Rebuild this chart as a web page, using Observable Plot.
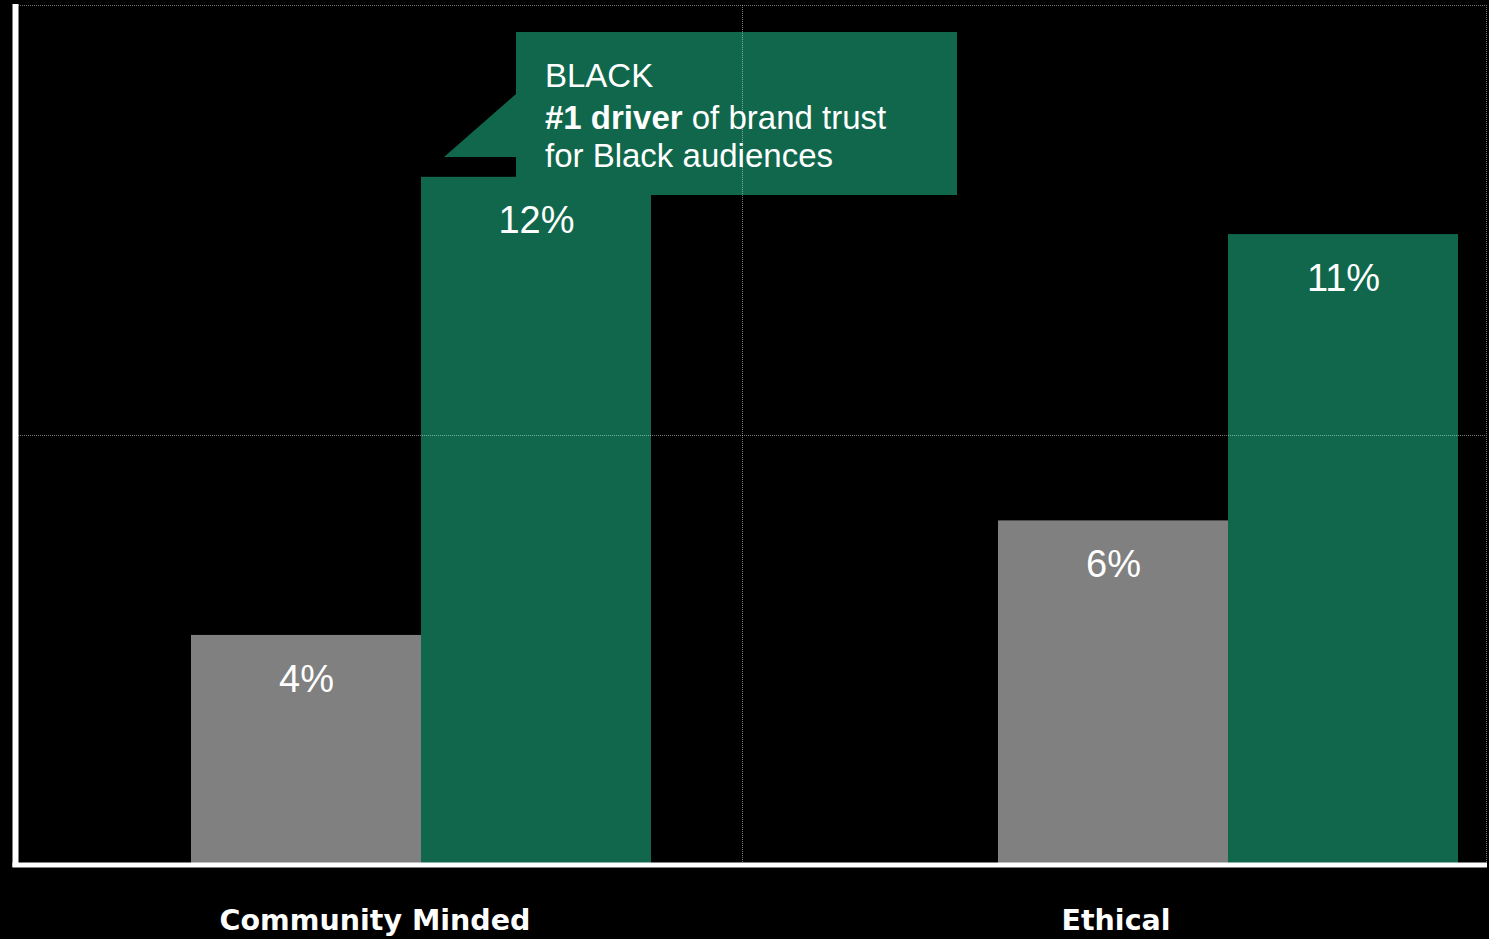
<!DOCTYPE html>
<html>
<head>
<meta charset="utf-8">
<script src="https://cdn.jsdelivr.net/npm/d3@7"></script>
<script src="https://cdn.jsdelivr.net/npm/@observablehq/plot@0.6"></script>
<style>
  html, body { margin: 0; padding: 0; background: #000; }
  #chart svg { display: block; }
  g[aria-label="fx-axis tick label"] text { font-weight: bold; }
</style>
</head>
<body>
<div id="chart"></div>
<script>
// ---- data ----
const categories = ["Community Minded", "Ethical"];
const seriesNames = ["Total", "Black"];
const totalShare = [4, 6];
const blackShare = [12, 11];
const gridValues = [7.5, 15];
const calloutTitle = "BLACK";
const calloutBold = "#1 driver";
const calloutRest = " of brand trust";
const calloutLine3 = "for Black audiences";

const table = categories.flatMap((c, i) => [
  {category: c, series: seriesNames[0], value: totalShare[i]},
  {category: c, series: seriesNames[1], value: blackShare[i]}
]);

const GREEN = "#10674b";
const GRAY = "#808080";
const groupShift = [-33, 33];

const plot = Plot.plot({
  width: 1489,
  height: 939,
  marginLeft: 4,
  marginRight: 3,
  marginTop: 5,
  marginBottom: 75,
  style: {background: "#000", color: "#fff", fontFamily: "'Liberation Sans', Arial, sans-serif"},
  fx: {domain: categories, padding: 0, label: null},
  x: {domain: seriesNames, paddingInner: 0, paddingOuter: 0.6056, align: 0.7835, axis: null},
  y: {domain: [0, 15], axis: null},
  color: {domain: seriesNames, range: [GRAY, GREEN]},
  marks: [
    ...categories.map((c, i) => Plot.barY(table.filter(d => d.category === c), {
      fx: "category", x: "series", y: "value", fill: "series", dx: groupShift[i]
    })),
    ...categories.map((c, i) => Plot.text(table.filter(d => d.category === c), {
      fx: "category", x: "series", y: "value", text: d => `${d.value}%`,
      dx: groupShift[i], dy: 44, lineAnchor: "middle", fill: "#fff", fontSize: 38,
      fontFamily: "'Liberation Sans', Arial, sans-serif"
    })),
    Plot.axisFx({anchor: "bottom", tickSize: 0, tickPadding: 45, fontSize: 28.5, fontWeight: "bold",
      fontFamily: "'DejaVu Sans', sans-serif", fill: "#fff", label: null})
  ]
});

document.getElementById("chart").append(plot);

// ---- annotations and chrome, positioned from the plot's own scales ----
const svg = d3.select(plot);
const y = plot.scale("y");
const fx = plot.scale("fx");
const y0 = y.apply(0);
const yTop = y.apply(15);
const svgBox = plot.getBoundingClientRect();

// callout anchored on the tallest bar
const rects = [...plot.querySelectorAll('g[aria-label="bar"] rect')];
let tallest = rects[0];
let best = Infinity;
for (const r of rects) {
  const b = r.getBoundingClientRect();
  if (b.top < best) { best = b.top; tallest = r; }
}
const tb = tallest.getBoundingClientRect();
const L = Math.round(tb.left - svgBox.left);
const T = Math.round(tb.top - svgBox.top);

const callout = svg.append("g").attr("aria-label", "callout");
const bx0 = L + 95, bx1 = L + 536, by0 = T - 145, by1 = T + 18;
callout.append("path")
  .attr("d", `M${bx0},${by0} H${bx1} V${by1} H${bx0} V${T - 20} H${L + 23} L${bx0},${T - 83} Z`)
  .style("fill", GREEN)
  .style("stroke", "none");
const ct = callout.append("text")
  .attr("text-anchor", "start")
  .style("fill", "#fff")
  .attr("font-family", "'Liberation Sans', Arial, sans-serif")
  .attr("font-size", 33);
ct.append("tspan").attr("x", L + 124).attr("y", T - 90).text(calloutTitle);
const l2 = ct.append("tspan").attr("x", L + 124).attr("y", T - 48);
l2.append("tspan").attr("font-weight", "bold").text(calloutBold);
l2.append("tspan").text(calloutRest);
ct.append("tspan").attr("x", L + 124).attr("y", T - 10).text(calloutLine3);

// dotted gridlines on top
const grid = svg.append("g").attr("aria-label", "grid")
  .attr("stroke", "#fff").attr("stroke-opacity", 0.45)
  .attr("stroke-dasharray", "1,1").attr("stroke-width", 1);
const xRight = 1489 - 3;
for (const v of gridValues) {
  const yy = Math.round(y.apply(v)) + 0.5;
  grid.append("line").attr("x1", 18).attr("x2", xRight).attr("y1", yy).attr("y2", yy);
}
for (const xx of [fx.apply(categories[1]) - 3, xRight]) {
  const xp = Math.round(xx) + 0.5;
  grid.append("line").attr("x1", xp).attr("x2", xp).attr("y1", yTop).attr("y2", y0);
}

// axis lines
const axes = svg.append("g").attr("aria-label", "axis lines").attr("stroke", "#fff");
axes.append("line").attr("x1", 15.5).attr("x2", 15.5).attr("y1", 4).attr("y2", y0 + 3).attr("stroke-width", 6);
axes.append("line").attr("x1", 12.5).attr("x2", 1487).attr("y1", y0 + 1).attr("y2", y0 + 1).attr("stroke-width", 5);
</script>
</body>
</html>
